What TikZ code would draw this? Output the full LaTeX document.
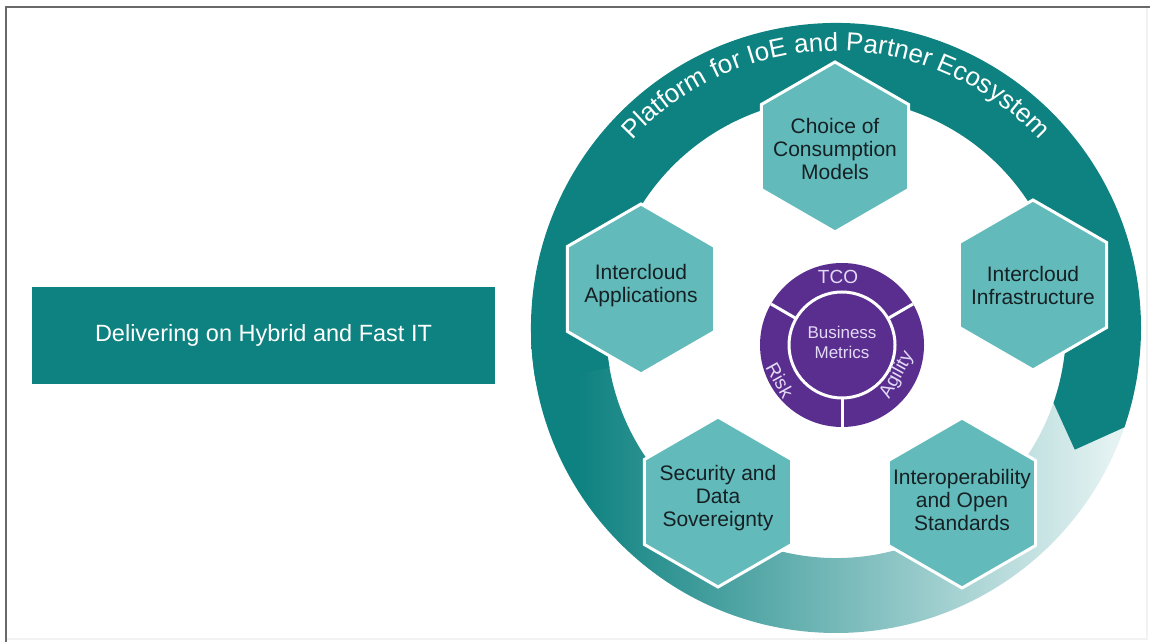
\documentclass[tikz,border=0pt]{standalone}
\usepackage{fontspec}
\setmainfont{Liberation Sans}
\usetikzlibrary{decorations.text}

\definecolor{ringteal}{RGB}{14,130,128}
\definecolor{ringmid}{RGB}{105,178,178}
\definecolor{ringpale}{RGB}{228,242,242}
\definecolor{hexteal}{RGB}{98,187,186}
\definecolor{hextext}{RGB}{22,32,36}
\definecolor{metricpurple}{RGB}{90,46,142}
\definecolor{metrictext}{RGB}{226,218,246}
\definecolor{framegray}{RGB}{105,105,105}
\definecolor{framelight}{RGB}{242,242,242}

\pgfdeclarehorizontalshading{ringfade}{100bp}{color(0bp)=(ringteal); color(29bp)=(ringteal);
  color(48bp)=(ringmid); color(74bp)=(ringpale); color(100bp)=(ringpale)}

\newcommand{\ringfont}{\fontsize{26}{26}\selectfont}
\newcommand{\hexfont}{\fontsize{21}{23}\selectfont}
\newcommand{\titlefont}{\fontsize{23.5}{26}\selectfont}
\newcommand{\metricfont}{\fontsize{17}{20}\selectfont}
\newcommand{\spokefont}{\fontsize{19}{19}\selectfont}

\tikzset{
  hexshape/.style={fill=hexteal, draw=white, line width=3pt, line join=miter},
  hexlabel/.style={text=hextext, align=center, font=\hexfont, inner sep=0pt},
  titlebox/.style={fill=ringteal, text=white, minimum width=463pt,
    minimum height=97pt, inner sep=0pt, font=\titlefont},
  spoke/.style={text=metrictext, font=\spokefont, inner sep=0pt},
}

\begin{document}
\begin{tikzpicture}[x=1pt,y=1pt]
  \useasboundingbox (0,0) rectangle (1150,642);

  \def\outerR{305}
  \def\innerR{230}
  \def\hexagon{+(90:85) -- +(150:85) -- +(210:85) -- +(270:85) -- +(330:85) -- +(30:85) -- cycle}

  % frame
  \draw[framelight, line width=1.5pt] (6,3) -- (1147,3) -- (1147,635);
  \draw[framegray, line width=2pt] (6,0) -- (6,635) -- (1150,635);

  \node[titlebox] (hybrid) at (263.5,306.5) {Delivering on Hybrid and Fast IT};

  % ring, fading tail and arrow head
  \begin{scope}[shift={(836,314)}]
    \shade[shading=ringfade]
      (180:\outerR) arc[start angle=180, end angle=341, radius=\outerR]
      -- (341:\innerR) arc[start angle=341, end angle=180, radius=\innerR] -- cycle;
    \fill[ringteal]
      (190:\outerR) arc[start angle=190, end angle=-19, radius=\outerR]
      -- (-27:268) -- (-19:\innerR)
      arc[start angle=-19, end angle=190, radius=\innerR] -- cycle;
    \path[decorate, decoration={text along path, text align=center,
      text={|\ringfont\color{white}|Platform for IoE and Partner Ecosystem}}]
      (150:277) arc[start angle=150, end angle=30, radius=277];
  \end{scope}

  \filldraw[hexshape] (835,495) \hexagon;
  \filldraw[hexshape] (1033,357) \hexagon;
  \filldraw[hexshape] (641,353) \hexagon;
  \filldraw[hexshape] (718,140) \hexagon;
  \filldraw[hexshape] (962,139) \hexagon;

  \node[hexlabel] (choice) at (835,493) {Choice of\\Consumption\\Models};
  \node[hexlabel] (infra) at (1033,357) {Intercloud\\Infrastructure};
  \node[hexlabel] (apps) at (641,356) {Intercloud\\Applications};
  \node[hexlabel] (security) at (718,144) {Security and\\Data\\Sovereignty};
  \node[hexlabel] (interop) at (962,142) {Interoperability\\and Open\\Standards};

  % business metrics
  \coordinate (hub) at (842,297);
  \begin{scope}[shift={(hub)}]
    \fill[metricpurple] (0,0) circle (82);
    \draw[white, line width=3pt] (0,0) circle (53);
    \draw[white, line width=3pt] (30:53) -- (30:82);
    \draw[white, line width=3pt] (150:53) -- (150:82);
    \draw[white, line width=3pt] (270:53) -- (270:82);
  \end{scope}
  \node[spoke, align=center, font=\metricfont] (metrics) at (842,300) {Business\\Metrics};
  \node[spoke] (tco) at (838,365) {TCO};
  \node[spoke, rotate=-61] (risk) at (780,262) {Risk};
  \node[spoke, rotate=61] (agility) at (897,267) {Agility};

\end{tikzpicture}
\end{document}
